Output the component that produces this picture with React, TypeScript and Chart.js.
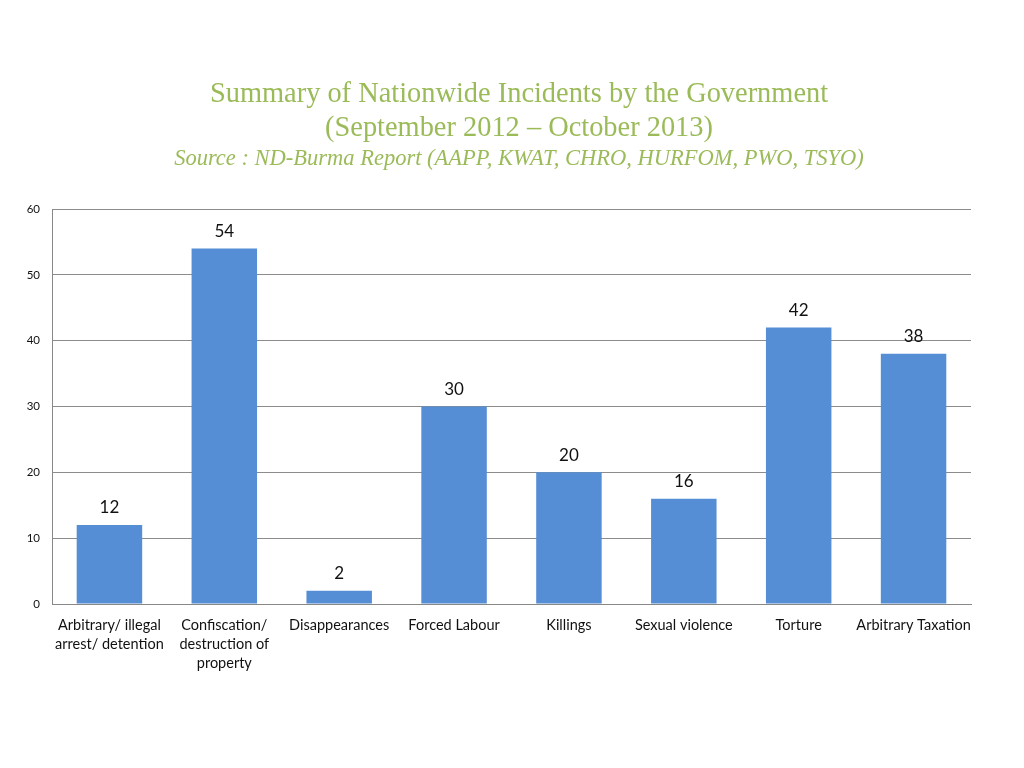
import React, { useEffect, useRef } from "react";
import { Chart, registerables } from "chart.js";

Chart.register(...registerables);

const categories: (string | string[])[] = [
  ["Arbitrary/ illegal", "arrest/ detention"],
  ["Confiscation/", "destruction of", "property"],
  "Disappearances",
  "Forced Labour",
  "Killings",
  "Sexual violence",
  "Torture",
  "Arbitrary Taxation",
];
const incidents: number[] = [12, 54, 2, 30, 20, 16, 42, 38];
const yTicks: number[] = [0, 10, 20, 30, 40, 50, 60];
const titleLines: string[] = [
  "Summary of Nationwide Incidents by the Government",
  "(September 2012 \u2013 October 2013)",
];
const subtitleText = "Source : ND-Burma Report (AAPP, KWAT, CHRO, HURFOM, PWO, TSYO)";

const valueLabels = {
  id: "valueLabels",
  afterDatasetsDraw(chart: any) {
    const ctx = chart.ctx;
    const meta = chart.getDatasetMeta(0);
    ctx.save();
    ctx.font = "17px Lato, 'Open Sans', sans-serif";
    ctx.fillStyle = "#111";
    ctx.textAlign = "center";
    ctx.textBaseline = "middle";
    meta.data.forEach((bar: any, i: number) => {
      ctx.fillText(String(incidents[i]), bar.x, bar.y - 17);
    });
    ctx.restore();
  },
};

const headerTitle = {
  id: "headerTitle",
  afterDraw(chart: any) {
    const ctx = chart.ctx;
    const cx = 519;
    ctx.save();
    ctx.fillStyle = "#9bbb59";
    ctx.textAlign = "center";
    ctx.textBaseline = "middle";
    ctx.font = "28.4px 'Liberation Serif', 'Times New Roman', serif";
    ctx.fillText(titleLines[0], cx, 95);
    ctx.fillText(titleLines[1], cx, 129);
    ctx.font = "italic 22.5px 'Liberation Serif', 'Times New Roman', serif";
    ctx.fillText(subtitleText, cx, 159);
    ctx.restore();
  },
};

export default function App() {
  const ref = useRef<HTMLCanvasElement>(null);
  useEffect(() => {
    if (!ref.current) return;
    const chart = new Chart(ref.current, {
      type: "bar",
      data: {
        labels: categories,
        datasets: [
          {
            data: incidents,
            backgroundColor: "#558ed5",
            borderWidth: 0,
            categoryPercentage: 1,
            barPercentage: 0.57,
          },
        ],
      },
      plugins: [valueLabels, headerTitle],
      options: {
        animation: false,
        responsive: false,
        layout: { padding: { left: 12, right: 53, top: 209, bottom: 0 } },
        plugins: {
          legend: { display: false },
          tooltip: { enabled: false },
          title: { display: false },
        },
        scales: {
          x: {
            grid: { display: false, drawTicks: false },
            border: { display: true, color: "#888", width: 1 },
            ticks: {
              color: "#111",
              font: { family: "Lato, 'Open Sans', sans-serif", size: 14.5, lineHeight: 1.31 },
              padding: 12,
              maxRotation: 0,
              autoSkip: false,
            },
            afterFit: (s: any) => { s.height = 164; },
          },
          y: {
            min: 0,
            max: 60,
            afterBuildTicks: (s: any) => { s.ticks = yTicks.map((v) => ({ value: v })); },
            grid: { color: "#8c8c8c", drawTicks: false, lineWidth: 1 },
            border: { display: true, color: "#888", width: 1 },
            ticks: {
              color: "#111",
              font: { family: "Lato, 'Open Sans', sans-serif", size: 11.5 },
              padding: 12,
            },
            afterFit: (s: any) => { s.width = 40; },
          },
        },
      },
    });
    return () => chart.destroy();
  }, []);
  return (
    <div style={{ position: "absolute", left: 0, top: 0, width: 1024, height: 768, background: "#fff" }}>
      <canvas ref={ref} width={1024} height={768} style={{ display: "block" }} />
    </div>
  );
}
